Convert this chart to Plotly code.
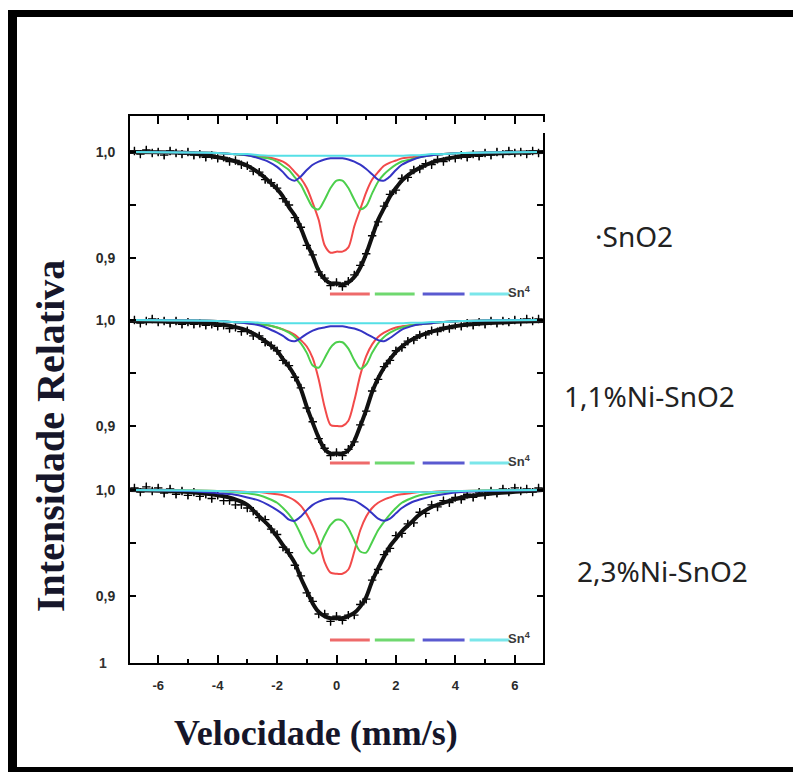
import plotly.graph_objects as go

W, H = 793, 772

# ---------------- data ----------------
X_TICKS = [-6, -4, -2, 0, 2, 4, 6]
X_TICK_TEXT = ["-6", "-4", "-2", "0", "2", "4", "6"]
X_MINOR = [-5, -3, -1, 1, 3, 5]
Y_TICKS = [0.9, 1.0]
Y_TICK_TEXT = ["0,9", "1,0"]
Y_MINOR = [0.95]

SAMPLES = ["\u00b7SnO2", "1,1%Ni-SnO2", "2,3%Ni-SnO2"]

X_DATA = [-6.8, -6.6, -6.4, -6.2, -6.0, -5.8, -5.6, -5.4, -5.2, -5.0,
          -4.8, -4.6, -4.4, -4.2, -4.0, -3.8, -3.6, -3.4, -3.2, -3.0,
          -2.8, -2.6, -2.4, -2.2, -2.0, -1.8, -1.6, -1.4, -1.2, -1.0,
          -0.8, -0.6, -0.4, -0.2, 0.0, 0.2, 0.4, 0.6, 0.8, 1.0,
          1.2, 1.4, 1.6, 1.8, 2.0, 2.2, 2.4, 2.6, 2.8, 3.0,
          3.2, 3.4, 3.6, 3.8, 4.0, 4.2, 4.4, 4.6, 4.8, 5.0,
          5.2, 5.4, 5.6, 5.8, 6.0, 6.2, 6.4, 6.6, 6.8]

DATA_SNO2 = [1.001, 0.998, 1.002, 0.999, 1.000, 0.997, 1.001, 0.999, 0.998, 1.000,
             0.997, 0.998, 0.995, 0.997, 0.994, 0.995, 0.991, 0.992, 0.988, 0.987,
             0.982, 0.981, 0.974, 0.971, 0.966, 0.956, 0.950, 0.938, 0.929, 0.912,
             0.903, 0.887, 0.881, 0.874, 0.877, 0.873, 0.878, 0.884, 0.893, 0.904,
             0.921, 0.934, 0.949, 0.960, 0.964, 0.975, 0.976, 0.983, 0.984, 0.989,
             0.988, 0.993, 0.991, 0.995, 0.994, 0.997, 0.995, 0.998, 0.996, 0.999,
             0.997, 1.000, 0.998, 1.001, 0.999, 1.000, 0.998, 1.001, 0.999]

DATA_NI11 = [1.000, 0.997, 0.999, 1.001, 0.998, 0.999, 0.997, 0.999, 0.996, 0.998,
             0.996, 0.997, 0.995, 0.996, 0.994, 0.995, 0.992, 0.993, 0.989, 0.990,
             0.985, 0.985, 0.979, 0.976, 0.971, 0.962, 0.957, 0.946, 0.936, 0.917,
             0.904, 0.888, 0.879, 0.872, 0.875, 0.872, 0.878, 0.885, 0.901, 0.914,
             0.933, 0.944, 0.956, 0.962, 0.971, 0.974, 0.980, 0.981, 0.986, 0.986,
             0.990, 0.989, 0.993, 0.992, 0.995, 0.994, 0.997, 0.995, 0.998, 0.996,
             0.999, 0.997, 0.999, 0.998, 1.000, 0.998, 1.001, 0.999, 1.001]

DATA_NI23 = [1.002, 0.998, 1.003, 0.999, 1.002, 0.997, 1.001, 0.996, 0.999, 0.995,
             0.998, 0.994, 0.996, 0.992, 0.995, 0.990, 0.990, 0.986, 0.986, 0.983,
             0.980, 0.974, 0.972, 0.963, 0.958, 0.946, 0.941, 0.929, 0.919, 0.903,
             0.895, 0.883, 0.883, 0.876, 0.881, 0.877, 0.882, 0.882, 0.892, 0.897,
             0.915, 0.925, 0.939, 0.945, 0.957, 0.959, 0.968, 0.969, 0.979, 0.978,
             0.986, 0.984, 0.990, 0.988, 0.993, 0.991, 0.996, 0.993, 0.998, 0.995,
             0.999, 0.997, 1.001, 0.998, 1.002, 0.999, 1.001, 0.998, 1.002]

X_FIT = [-7.0, -5.0, -4.0, -3.5, -3.0, -2.6,
         -2.3, -2.0, -1.8, -1.6, -1.4, -1.2,
         -1.0, -0.8, -0.6, -0.4, -0.2, 0.0,
         0.2, 0.4, 0.6, 0.8, 1.0, 1.2,
         1.4, 1.6, 1.8, 2.0, 2.2, 2.5,
         2.8, 3.2, 3.6, 4.2, 5.0, 7.0]

# SnO2
FIT_SNO2 = [1.000, 0.999, 0.995, 0.992, 0.987, 0.980,
            0.973, 0.965, 0.958, 0.948, 0.940, 0.928,
            0.914, 0.902, 0.888, 0.880, 0.876, 0.876,
            0.875, 0.877, 0.882, 0.891, 0.904, 0.920,
            0.936, 0.947, 0.958, 0.966, 0.973, 0.980,
            0.985, 0.990, 0.993, 0.996, 0.998, 1.000]
RED_SNO2 = [1.000, 0.9995, 0.999, 0.998, 0.997, 0.996,
            0.995, 0.993, 0.991, 0.987, 0.981, 0.975,
            0.966, 0.952, 0.936, 0.912, 0.905, 0.906,
            0.906, 0.910, 0.930, 0.946, 0.962, 0.974,
            0.981, 0.987, 0.990, 0.992, 0.994, 0.995,
            0.996, 0.997, 0.998, 0.999, 0.9995, 1.000]
GREEN_SNO2 = [1.000, 0.9995, 0.999, 0.998, 0.997, 0.995,
              0.994, 0.991, 0.987, 0.983, 0.976, 0.969,
              0.958, 0.948, 0.946, 0.955, 0.966, 0.973,
              0.973, 0.966, 0.955, 0.946, 0.949, 0.961,
              0.972, 0.979, 0.984, 0.988, 0.991, 0.993,
              0.995, 0.997, 0.998, 0.999, 0.9995, 1.000]
BLUE_SNO2 = [1.000, 0.9995, 0.999, 0.998, 0.997, 0.994,
             0.991, 0.986, 0.981, 0.975, 0.973, 0.977,
             0.983, 0.988, 0.991, 0.993, 0.994, 0.994,
             0.994, 0.993, 0.991, 0.988, 0.984, 0.979,
             0.974, 0.973, 0.977, 0.983, 0.988, 0.992,
             0.995, 0.997, 0.998, 0.999, 0.9995, 1.000]
CYAN_SNO2 = [1.000, 0.9995, 0.999, 0.998, 0.998, 0.997,
             0.9965, 0.9965, 0.9965, 0.9965, 0.9965, 0.9965,
             0.9965, 0.9965, 0.9965, 0.9965, 0.9965, 0.9965,
             0.9965, 0.9965, 0.9965, 0.9965, 0.9965, 0.9965,
             0.9965, 0.9965, 0.9965, 0.9965, 0.9965, 0.997,
             0.997, 0.998, 0.998, 0.999, 0.9995, 1.000]

# 1,1% Ni
FIT_NI11 = [0.999, 0.998, 0.996, 0.994, 0.990, 0.984,
            0.978, 0.971, 0.963, 0.956, 0.947, 0.935,
            0.918, 0.903, 0.889, 0.878, 0.874, 0.874,
            0.874, 0.877, 0.886, 0.900, 0.915, 0.932,
            0.945, 0.955, 0.963, 0.970, 0.975, 0.981,
            0.985, 0.989, 0.992, 0.995, 0.997, 0.999]
RED_NI11 = [1.000, 0.9995, 0.999, 0.998, 0.997, 0.996,
            0.995, 0.993, 0.991, 0.989, 0.986, 0.981,
            0.975, 0.964, 0.944, 0.918, 0.901, 0.900,
            0.900, 0.905, 0.924, 0.948, 0.966, 0.977,
            0.984, 0.988, 0.991, 0.993, 0.994, 0.995,
            0.996, 0.997, 0.998, 0.999, 0.9995, 1.000]
GREEN_NI11 = [1.000, 0.9995, 0.999, 0.998, 0.997, 0.996,
              0.995, 0.993, 0.991, 0.988, 0.984, 0.978,
              0.969, 0.957, 0.955, 0.964, 0.974, 0.979,
              0.979, 0.973, 0.962, 0.954, 0.958, 0.969,
              0.978, 0.984, 0.988, 0.991, 0.993, 0.995,
              0.996, 0.997, 0.998, 0.999, 0.9995, 1.000]
BLUE_NI11 = [1.000, 0.9995, 0.999, 0.998, 0.997, 0.995,
             0.992, 0.988, 0.985, 0.981, 0.980, 0.983,
             0.987, 0.990, 0.992, 0.993, 0.994, 0.994,
             0.994, 0.993, 0.992, 0.990, 0.987, 0.984,
             0.981, 0.980, 0.983, 0.987, 0.991, 0.994,
             0.996, 0.997, 0.998, 0.999, 0.9995, 1.000]
CYAN_NI11 = [1.000, 0.9995, 0.999, 0.998, 0.998, 0.9975,
             0.997, 0.997, 0.997, 0.997, 0.997, 0.997,
             0.997, 0.997, 0.997, 0.997, 0.997, 0.997,
             0.997, 0.997, 0.997, 0.997, 0.997, 0.997,
             0.997, 0.997, 0.997, 0.997, 0.997, 0.9975,
             0.9975, 0.998, 0.998, 0.999, 0.9995, 1.000]

# 2,3% Ni
FIT_NI23 = [1.000, 0.998, 0.995, 0.992, 0.986, 0.975,
            0.967, 0.956, 0.948, 0.940, 0.931, 0.917,
            0.905, 0.893, 0.885, 0.881, 0.879, 0.879,
            0.879, 0.881, 0.884, 0.890, 0.899, 0.914,
            0.926, 0.937, 0.947, 0.954, 0.961, 0.969,
            0.977, 0.984, 0.988, 0.993, 0.996, 1.000]
RED_NI23 = [1.000, 0.9995, 0.999, 0.999, 0.998, 0.998,
            0.997, 0.996, 0.995, 0.993, 0.990, 0.985,
            0.977, 0.966, 0.952, 0.932, 0.922, 0.921,
            0.921, 0.925, 0.942, 0.962, 0.975, 0.983,
            0.988, 0.991, 0.993, 0.995, 0.996, 0.997,
            0.998, 0.998, 0.999, 0.999, 0.9995, 1.000]
GREEN_NI23 = [1.000, 0.9995, 0.999, 0.998, 0.997, 0.995,
              0.992, 0.988, 0.983, 0.977, 0.969, 0.958,
              0.946, 0.940, 0.945, 0.957, 0.967, 0.972,
              0.971, 0.964, 0.952, 0.942, 0.941, 0.951,
              0.962, 0.970, 0.977, 0.983, 0.988, 0.992,
              0.995, 0.997, 0.998, 0.999, 0.9995, 1.000]
BLUE_NI23 = [1.000, 0.999, 0.997, 0.996, 0.993, 0.990,
             0.986, 0.981, 0.977, 0.972, 0.971, 0.975,
             0.981, 0.986, 0.989, 0.991, 0.992, 0.992,
             0.992, 0.991, 0.990, 0.987, 0.983, 0.978,
             0.973, 0.971, 0.973, 0.978, 0.983, 0.988,
             0.991, 0.994, 0.996, 0.998, 0.999, 1.000]
CYAN_NI23 = [1.000, 0.9995, 0.999, 0.9985, 0.998, 0.998,
             0.998, 0.998, 0.998, 0.998, 0.998, 0.998,
             0.998, 0.998, 0.998, 0.998, 0.998, 0.998,
             0.998, 0.998, 0.998, 0.998, 0.998, 0.998,
             0.998, 0.998, 0.998, 0.998, 0.998, 0.998,
             0.998, 0.998, 0.9985, 0.999, 0.9995, 1.000]

PANELS = [
    dict(data=DATA_SNO2, fit=FIT_SNO2, comps=[RED_SNO2, GREEN_SNO2, BLUE_SNO2, CYAN_SNO2]),
    dict(data=DATA_NI11, fit=FIT_NI11, comps=[RED_NI11, GREEN_NI11, BLUE_NI11, CYAN_NI11]),
    dict(data=DATA_NI23, fit=FIT_NI23, comps=[RED_NI23, GREEN_NI23, BLUE_NI23, CYAN_NI23]),
]

# ---------------- style / layout ----------------
COMP_COLORS = ["#f24a4a", "#4ccf4c", "#3434c4", "#55e0e6"]
LEG_COLORS = ["#ee6a6a", "#6fd86f", "#5a5ad0", "#7ae6ea"]
LEG_SEGMENTS = [(-0.22, 1.12), (1.29, 2.63), (2.90, 4.31), (4.48, 5.82)]
LEG_Y = [0.866, 0.865, 0.8585]

def px(x):
    return x / W

def py(y):
    return 1 - y / H

PLOT_L, PLOT_R, PLOT_T, PLOT_B = 130, 543, 116, 663
Y_RANGES = [[0.51792, 1.03396], [0.67642, 1.19245], [0.83679, 1.35283]]

fig = go.Figure()
axes = ["y", "y2", "y3"]

for i, p in enumerate(PANELS):
    ya = axes[i]
    fig.add_trace(go.Scatter(
        x=X_DATA, y=p["data"], yaxis=ya, mode="markers",
        marker=dict(symbol="cross-thin", size=6, color="black",
                    line=dict(width=1.3, color="black")),
        error_y=dict(type="constant", value=0.0035, thickness=1.2, width=0, color="#222222"),
        showlegend=False, hoverinfo="skip"))
    fig.add_trace(go.Scatter(
        x=X_FIT, y=p["fit"], yaxis=ya, mode="lines",
        line=dict(color="#111111", width=4, shape="spline", smoothing=0.8),
        showlegend=False, hoverinfo="skip"))
    for comp, col in zip(p["comps"], COMP_COLORS):
        fig.add_trace(go.Scatter(
            x=X_FIT, y=comp, yaxis=ya, mode="lines",
            line=dict(color=col, width=2, shape="spline", smoothing=0.8),
            showlegend=False, hoverinfo="skip"))

shapes = []
for i in range(3):
    yref = axes[i]
    for (x0, x1), col in zip(LEG_SEGMENTS, LEG_COLORS):
        shapes.append(dict(type="line", xref="x", yref=yref, x0=x0, x1=x1,
                           y0=LEG_Y[i], y1=LEG_Y[i], line=dict(color=col, width=3)))

# outer black frame (left, top, bottom)
shapes.append(dict(type="rect", xref="paper", yref="paper", x0=px(8), x1=px(17),
                   y0=py(772), y1=py(10), fillcolor="black", line=dict(width=0), layer="above"))
shapes.append(dict(type="rect", xref="paper", yref="paper", x0=px(8), x1=px(793),
                   y0=py(17), y1=py(10), fillcolor="black", line=dict(width=0), layer="above"))
shapes.append(dict(type="rect", xref="paper", yref="paper", x0=px(8), x1=px(793),
                   y0=py(772), y1=py(767), fillcolor="black", line=dict(width=0), layer="above"))
# small gap in right axis line near the top
shapes.append(dict(type="rect", xref="paper", yref="paper", x0=px(540), x1=px(547),
                   y0=py(133), y1=py(122), fillcolor="white", line=dict(width=0), layer="above"))

annotations = []
label_pos = [(593, 236), (562, 396), (575, 571)]
for txt, (lx, ly) in zip(SAMPLES, label_pos):
    annotations.append(dict(text=txt, xref="paper", yref="paper", x=px(lx), y=py(ly),
                            xanchor="left", yanchor="middle", showarrow=False,
                            font=dict(family="Noto Sans, Open Sans, sans-serif", size=28, color="#222222")))

for i in range(3):
    annotations.append(dict(text="<b>Sn<sup>4</sup></b>", xref="x", yref=axes[i], x=6.15, y=LEG_Y[i] + 0.002,
                            xanchor="center", yanchor="middle", showarrow=False,
                            font=dict(family="Liberation Sans Narrow, Liberation Sans, Arial", size=13, color="#3a3a3a")))

annotations.append(dict(text="<b>Intensidade Relativa</b>", xref="paper", yref="paper", x=px(50), y=py(436),
                        xanchor="center", yanchor="middle", textangle=-90, showarrow=False,
                        font=dict(family="Liberation Serif, Times New Roman, serif", size=40, color="#16162a")))
annotations.append(dict(text="<b>Velocidade (mm/s)</b>", xref="paper", yref="paper", x=px(316), y=py(733),
                        xanchor="center", yanchor="middle", showarrow=False,
                        font=dict(family="Liberation Serif, Times New Roman, serif", size=36, color="#16162a")))
annotations.append(dict(text="<b>1</b>", xref="paper", yref="paper", x=px(103), y=py(663),
                        xanchor="center", yanchor="middle", showarrow=False,
                        font=dict(family="Liberation Sans Narrow, Liberation Sans, Arial", size=14, color="#333333")))

tickfont = dict(family="Liberation Sans Narrow, Liberation Sans, Arial", size=14, color="#2a2a2a", weight="bold")
xtickfont = dict(family="Liberation Sans Narrow, Liberation Sans, Arial", size=13, color="#2a2a2a", weight="bold")

ybase = dict(domain=[py(PLOT_B), py(PLOT_T)], tickmode="array", tickvals=Y_TICKS, ticktext=Y_TICK_TEXT,
             ticks="inside", ticklen=6, tickwidth=2, tickcolor="black",
             minor=dict(tickmode="array", tickvals=Y_MINOR, ticks="inside", ticklen=6,
                        tickwidth=2, tickcolor="black"),
             showline=True, linewidth=2, linecolor="black", mirror="ticks",
             showgrid=False, zeroline=False, tickfont=tickfont, ticklabelstandoff=10)

layout_axes = {}
for i in range(3):
    d = dict(ybase)
    d["range"] = Y_RANGES[i]
    if i > 0:
        d["overlaying"] = "y"
    layout_axes["yaxis" if i == 0 else "yaxis%d" % (i + 1)] = d

fig.update_layout(
    width=W, height=H, margin=dict(l=0, r=0, t=0, b=0),
    paper_bgcolor="white", plot_bgcolor="white",
    xaxis=dict(domain=[px(PLOT_L), px(PLOT_R)], range=[-6.95, 6.95],
               tickmode="array", tickvals=X_TICKS, ticktext=X_TICK_TEXT,
               ticks="inside", ticklen=8, tickwidth=2, tickcolor="black",
               minor=dict(tickmode="array", tickvals=X_MINOR, ticks="inside", ticklen=4,
                          tickwidth=2, tickcolor="black"),
               showline=True, linewidth=2, linecolor="black", mirror="ticks",
               showgrid=False, zeroline=False, tickfont=xtickfont, ticklabelstandoff=9),
    shapes=shapes, annotations=annotations, showlegend=False,
    **layout_axes,
)

fig.write_html("out.html")
